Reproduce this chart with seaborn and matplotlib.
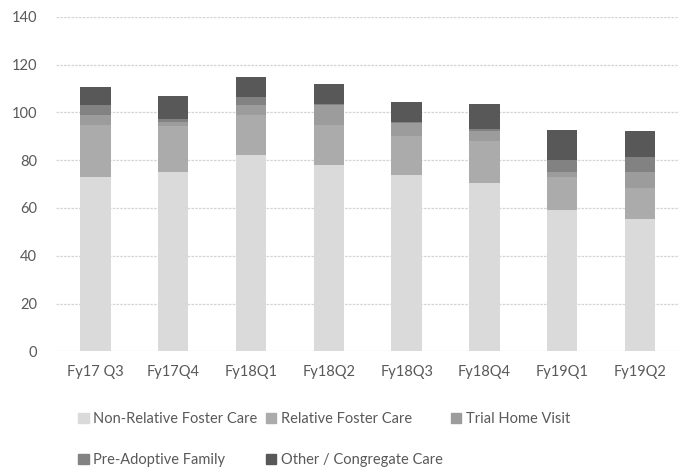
import matplotlib
matplotlib.use("Agg")
import matplotlib.pyplot as plt
import matplotlib.patches as mpatches
import numpy as np
import pandas as pd
import seaborn as sns

# quarters on the x axis
quarters = ["Fy17 Q3", "Fy17Q4", "Fy18Q1", "Fy18Q2", "Fy18Q3", "Fy18Q4", "Fy19Q1", "Fy19Q2"]

# placement counts per category, bottom to top of each stack
non_relative = [73.0, 75.1, 82.0, 77.9, 73.7, 70.3, 59.2, 55.2]
relative = [21.9, 19.1, 17.0, 17.0, 16.3, 17.9, 13.8, 13.0]
trial_home = [4.1, 1.7, 4.2, 8.1, 5.6, 4.2, 2.1, 6.9]
pre_adoptive = [4.2, 1.2, 3.4, 0.6, 0.4, 0.5, 4.8, 6.1]
other_congregate = [7.6, 9.6, 8.2, 8.4, 8.3, 10.8, 12.9, 10.9]

series_names = ["Non-Relative Foster Care", "Relative Foster Care", "Trial Home Visit",
                "Pre-Adoptive Family", "Other / Congregate Care"]
series_values = [non_relative, relative, trial_home, pre_adoptive, other_congregate]
colors = ["#dadada", "#ababab", "#9c9c9c", "#828282", "#585858"]

sns.set_style("white")
plt.rcParams["font.family"] = ["Lato", "DejaVu Sans"]

fig = plt.figure(figsize=(6.88, 4.69), dpi=100)
ax = fig.add_axes([0.082, 0.251, 0.905, 0.713])

# cumulative tops, drawn from the tallest layer down so each lower layer covers the rest
cum = np.cumsum(np.array(series_values), axis=0)
for i in range(len(series_names) - 1, -1, -1):
    df = pd.DataFrame({"quarter": quarters, "value": cum[i]})
    sns.barplot(data=df, x="quarter", y="value", color=colors[i], width=0.39,
                saturation=1, ax=ax, zorder=3, linewidth=0)

ax.set_ylim(0, 140)
ax.set_yticks(range(0, 141, 20))
ax.set_xlim(-0.5, len(quarters) - 0.5)
ax.set_xlabel("")
ax.set_ylabel("")
ax.grid(axis="y", color="#d4d4d4", linestyle=(0, (2, 1)), linewidth=0.9, zorder=0)
for side in ["top", "right", "left", "bottom"]:
    ax.spines[side].set_visible(False)
ax.tick_params(axis="both", length=0, labelsize=10.5, labelcolor="#595959")
ax.tick_params(axis="y", pad=14)
ax.tick_params(axis="x", pad=10)

# legend in Excel's row-major order with three columns
handles = [mpatches.Patch(color=c, label=n) for n, c in zip(series_names, colors)]
order = [0, 3, 1, 4, 2]
leg = fig.legend([handles[k] for k in order], [series_names[k] for k in order],
                 ncol=3, loc="lower left", bbox_to_anchor=(0.095, -0.024), frameon=False,
                 fontsize=10.5, handlelength=0.7, handleheight=0.7, handletextpad=0.3,
                 columnspacing=0.6, labelspacing=1.85)
for t in leg.get_texts():
    t.set_color("#595959")

fig.savefig("out.png", dpi=100)
